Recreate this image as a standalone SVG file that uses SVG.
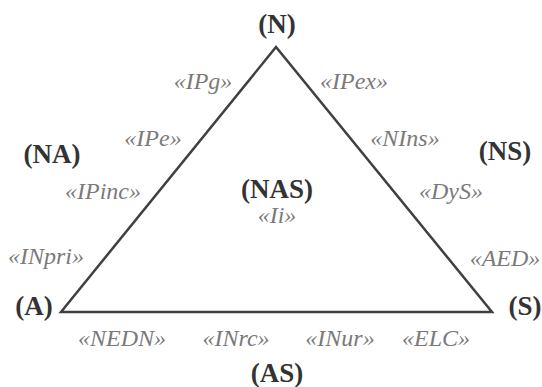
<svg xmlns="http://www.w3.org/2000/svg" width="542" height="387" viewBox="0 0 542 387">
<style>
.v{font-family:"Liberation Serif","Times New Roman",serif;font-weight:bold;font-size:27px;fill:#333;text-anchor:middle}
.l{font-family:"Liberation Serif","Times New Roman",serif;font-style:italic;font-size:24px;fill:#7a7a7a;text-anchor:middle}
.e{fill:none;stroke:#404040;stroke-width:2.5;stroke-linejoin:miter}
</style>
<rect width="542" height="387" fill="#fff"/>
<g id="connectors">
<path class="e" d="M61,312 L276,47 L492,312 Z"/>
</g>
<g id="N"><text class="v" x="277" y="33">(N)</text></g>
<g id="NA"><text class="v" x="52" y="163">(NA)</text></g>
<g id="NS"><text class="v" x="505" y="160">(NS)</text></g>
<g id="NAS"><text class="v" x="277" y="198">(NAS)</text><text class="l" x="277" y="223">«Ii»</text></g>
<g id="A"><text class="v" x="34" y="315">(A)</text></g>
<g id="S"><text class="v" x="525" y="315">(S)</text></g>
<g id="AS"><text class="v" x="277" y="382">(AS)</text></g>
<g id="labels">
<text class="l" x="203" y="89">«IPg»</text>
<text class="l" x="153" y="146">«IPe»</text>
<text class="l" x="103" y="199">«IPinc»</text>
<text class="l" x="46" y="264">«INpri»</text>
<text class="l" x="354" y="89">«IPex»</text>
<text class="l" x="405" y="146">«NIns»</text>
<text class="l" x="451" y="199">«DyS»</text>
<text class="l" x="505" y="266">«AED»</text>
<text class="l" x="122" y="346">«NEDN»</text>
<text class="l" x="236" y="346">«INrc»</text>
<text class="l" x="340" y="346">«INur»</text>
<text class="l" x="436" y="346">«ELC»</text>
</g>
</svg>
